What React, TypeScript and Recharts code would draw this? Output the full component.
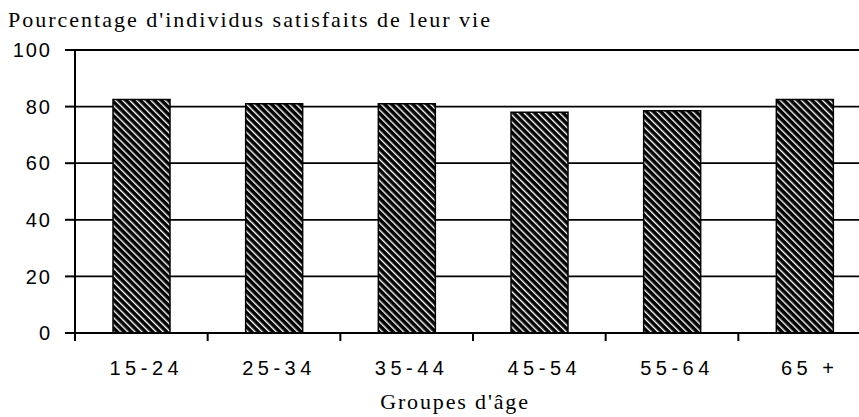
import { BarChart, Bar, XAxis, YAxis, CartesianGrid } from "recharts";

const ageGroups = ["15-24", "25-34", "35-44", "45-54", "55-64", "65 +"];
const satisfied = [82.5, 81, 81, 78, 78.5, 82.5];
const yTicks = [0, 20, 40, 60, 80, 100];

const W = 880;
const H = 417;
const M = { top: 50, right: 9, left: 0, bottom: 44 };
const Y_AXIS_W = 75;
const PLOT_W = W - M.left - M.right - Y_AXIS_W;
const BAND = PLOT_W / ageGroups.length;

const data = ageGroups.map((label, i) => ({ label, value: satisfied[i] }));

const axisFont = "'Liberation Sans', Arial, sans-serif";
const serif = "'Liberation Serif', 'Times New Roman', serif";

function AgeTick(props: any) {
  const { x, y, payload } = props;
  return (
    <g>
      <line x1={x - BAND / 2} x2={x - BAND / 2} y1={y} y2={y + 8} stroke="#000" strokeWidth={2} />
      <text
        x={x + 5}
        y={y + 42}
        textAnchor="middle"
        fontFamily={axisFont}
        fontSize={20}
        letterSpacing={4.5}
        fill="#000"
      >
        {payload.value}
      </text>
    </g>
  );
}

export default function App() {
  return (
    <div style={{ position: "fixed", left: 0, top: 0, width: 859, height: 417, overflow: "hidden", background: "#fff" }}>
      <div style={{ position: "absolute", left: 8, top: 10, fontFamily: serif, fontSize: 22, lineHeight: "20px", letterSpacing: 2, whiteSpace: "nowrap", color: "#000" }}>
        Pourcentage d'individus satisfaits de leur vie
      </div>
      <BarChart width={W} height={H} data={data} margin={M} barSize={57}>
        <defs>
          <pattern id="hatch" patternUnits="userSpaceOnUse" width={5} height={5} patternTransform="rotate(-45)">
            <rect width={5} height={5} fill="#000" />
            <rect x={0} y={0} width={1.4} height={5} fill="#fff" />
          </pattern>
        </defs>
        <CartesianGrid vertical={false} stroke="#000" strokeWidth={1.8} />
        <XAxis
          dataKey="label"
          axisLine={{ stroke: "#000", strokeWidth: 2 }}
          tickLine={false}
          tickSize={0}
          tickMargin={0}
          height={40}
          tick={<AgeTick />}
          interval={0}
        />
        <YAxis
          domain={[0, 100]}
          ticks={yTicks}
          width={Y_AXIS_W}
          axisLine={{ stroke: "#000", strokeWidth: 2 }}
          tickLine={{ stroke: "#000", strokeWidth: 2 }}
          tickSize={10}
          tickMargin={13}
          tick={{ fill: "#000", fontSize: 20, fontFamily: axisFont, letterSpacing: 2 }}
        />
        <Bar dataKey="value" fill="url(#hatch)" stroke="#000" strokeWidth={1.5} isAnimationActive={false} />
      </BarChart>
      <div style={{ position: "absolute", left: 0, width: 910, top: 392, textAlign: "center", fontFamily: serif, fontSize: 22, lineHeight: "20px", letterSpacing: 1.85, whiteSpace: "nowrap", color: "#000" }}>
        Groupes d'âge
      </div>
    </div>
  );
}
